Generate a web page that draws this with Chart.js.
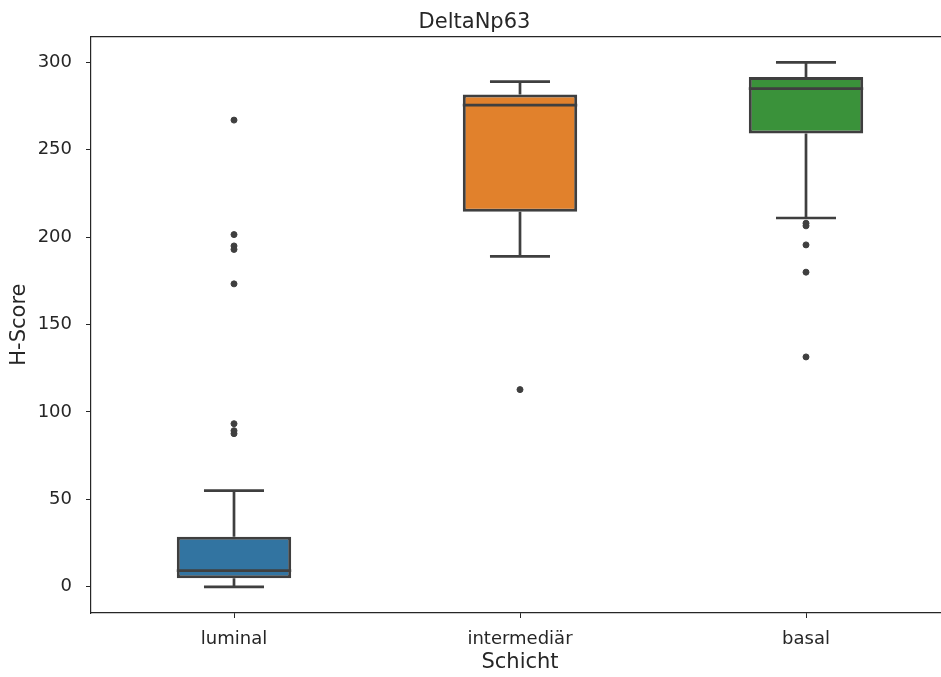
<!DOCTYPE html>
<html>
<head>
<meta charset="utf-8">
<script src="https://cdn.jsdelivr.net/npm/chart.js@4/dist/chart.umd.min.js"></script>
<style>
  html, body { margin: 0; padding: 0; background: #fff; overflow: hidden; }
  #wrap { width: 960px; height: 677px; }
</style>
</head>
<body>
<div id="wrap"><canvas id="boxChart" width="960" height="677"></canvas></div>
<script>
// Categories and box summary values
const categories = ['luminal', 'intermediär', 'basal'];
const lowWhisker = [0, 189, 211];
const q1 = [4.9, 214.5, 259.3];
const median = [9.2, 275.6, 285];
const q3 = [28.6, 281.7, 291.6];
const highWhisker = [55, 289, 300];
const boxColors = ['#3274a1', '#e1812c', '#3a923a'];

// Outliers per category
const luminalOutliers = [267, 201.5, 195, 193, 173.3, 93.3, 89.3, 87.6];
const intermediarOutliers = [112.8];
const basalOutliers = [208, 206.5, 195.6, 180, 131.5];

const yTicks = [0, 50, 100, 150, 200, 250, 300];

const lineGray = '#3f3f3f';
const textColor = '#262626';

// whiskers and caps, nulls break the line
const whiskerData = [];
categories.forEach((c, i) => {
    whiskerData.push({ x: i, y: q3[i] }, { x: i, y: highWhisker[i] }, { x: i, y: null });
    whiskerData.push({ x: i, y: q1[i] }, { x: i, y: lowWhisker[i] }, { x: i, y: null });
    whiskerData.push({ x: i - 0.105, y: highWhisker[i] }, { x: i + 0.105, y: highWhisker[i] }, { x: i, y: null });
    whiskerData.push({ x: i - 0.105, y: lowWhisker[i] }, { x: i + 0.105, y: lowWhisker[i] }, { x: i, y: null });
});

const medianData = [];
categories.forEach((c, i) => {
    medianData.push({ x: i - 0.2, y: median[i] }, { x: i + 0.2, y: median[i] }, { x: i, y: null });
});

const outlierData = [];
[luminalOutliers, intermediarOutliers, basalOutliers].forEach((arr, i) => {
    arr.forEach(v => outlierData.push({ x: i, y: v }));
});

new Chart(document.getElementById('boxChart'), {
    type: 'bar',
    data: {
        datasets: [
            {
                type: 'bar',
                data: categories.map((c, i) => ({ x: i, y: [q1[i], q3[i]] })),
                backgroundColor: boxColors,
                borderColor: lineGray,
                borderWidth: 3,
                borderSkipped: false,
                categoryPercentage: 1,
                barPercentage: 0.4,
                order: 3
            },
            {
                type: 'line',
                data: whiskerData,
                borderColor: lineGray,
                borderWidth: 2.7,
                pointRadius: 0,
                spanGaps: false,
                order: 2
            },
            {
                type: 'line',
                data: medianData,
                borderColor: lineGray,
                borderWidth: 2.7,
                pointRadius: 0,
                spanGaps: false,
                order: 1
            },
            {
                type: 'scatter',
                data: outlierData,
                backgroundColor: lineGray,
                borderColor: lineGray,
                borderWidth: 1,
                pointRadius: 3,
                order: 0
            }
        ]
    },
    options: {
        responsive: false,
        animation: false,
        layout: { padding: { left: 0, right: 11, top: 0, bottom: 0 } },
        plugins: {
            legend: { display: false },
            title: {
                display: true,
                text: 'DeltaNp63',
                color: textColor,
                font: { family: 'DejaVu Sans', size: 21, weight: 'normal' },
                padding: { top: 10, bottom: 1 }
            }
        },
        scales: {
            x: {
                type: 'linear',
                offset: false,
                min: -0.5,
                max: 2.5,
                afterBuildTicks: s => { s.ticks = categories.map((c, i) => ({ value: i })); },
                afterFit: s => { s.height = 64; },
                ticks: {
                    callback: v => categories[v],
                    color: textColor,
                    font: { family: 'DejaVu Sans', size: 18 },
                    padding: 11
                },
                grid: { offset: false, drawOnChartArea: false, tickLength: 5, color: textColor },
                border: { display: true, color: textColor, width: 1.2 },
                title: {
                    display: true,
                    text: 'Schicht',
                    color: textColor,
                    font: { family: 'DejaVu Sans', size: 21 },
                    padding: { top: 0, bottom: 2 }
                }
            },
            // top spine only
            xTop: {
                type: 'linear',
                position: 'top',
                offset: false,
                min: -0.5,
                max: 2.5,
                afterFit: s => { s.height = 0; },
                ticks: { display: false },
                grid: { display: false, drawTicks: false },
                border: { display: true, color: textColor, width: 1.2 }
            },
            y: {
                type: 'linear',
                min: -15,
                max: 315,
                afterBuildTicks: s => { s.ticks = yTicks.map(v => ({ value: v })); },
                afterFit: s => { s.width = 91; },
                ticks: {
                    color: textColor,
                    font: { family: 'DejaVu Sans', size: 18 },
                    padding: 14
                },
                grid: { drawOnChartArea: false, tickLength: 5, color: textColor },
                border: { display: true, color: textColor, width: 1.2 },
                title: {
                    display: true,
                    text: 'H-Score',
                    color: textColor,
                    font: { family: 'DejaVu Sans', size: 21 },
                    padding: { top: 7, bottom: 0 }
                }
            }
        }
    }
});
</script>
</body>
</html>
